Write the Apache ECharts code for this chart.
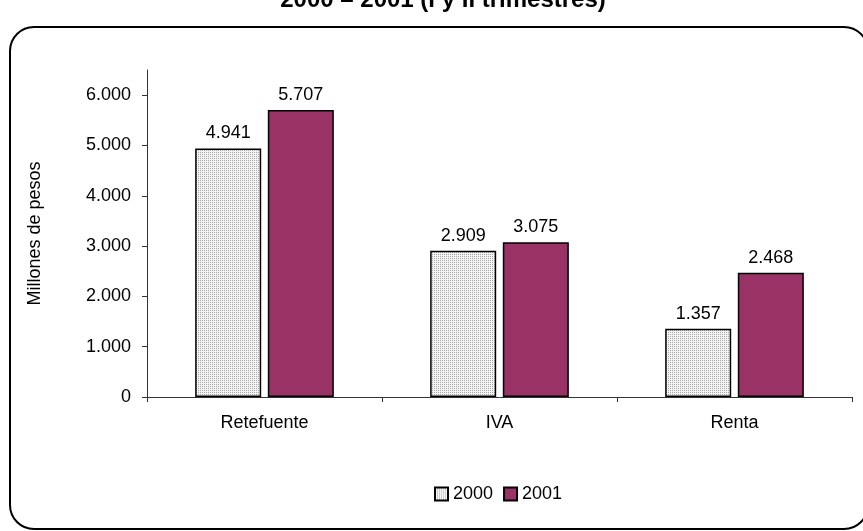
<!DOCTYPE html>
<html>
<head>
<meta charset="utf-8">
<script src="https://cdn.jsdelivr.net/npm/echarts@6/dist/echarts.min.js"></script>
<style>
html, body { margin: 0; padding: 0; background: #fff; }
#chart { width: 863px; height: 531px; }
</style>
</head>
<body>
<div id="chart"></div>
<script>
// datos
var categories = ['Retefuente', 'IVA', 'Renta'];
var years = ['2000', '2001'];
var values2000 = [4941, 2909, 1357];
var values2001 = [5707, 3075, 2468];
var yTicks = [0, 1000, 2000, 3000, 4000, 5000, 6000];
var titleText = '2000 – 2001 (I y II trimestres)';

// miles con punto
function fmt(v) {
    return String(v).replace(/\B(?=(\d{3})+(?!\d))/g, '.');
}

// trama punteada para 2000
var pat = document.createElement('canvas');
pat.width = 2;
pat.height = 2;
var pctx = pat.getContext('2d');
pctx.fillStyle = '#f4f4f4';
pctx.fillRect(0, 0, 2, 2);
pctx.fillStyle = '#a8a8a8';
pctx.fillRect(0, 0, 1, 1);

var font = 'Arial, "Liberation Sans", sans-serif';

var chart = echarts.init(document.getElementById('chart'));
var option = {
    animation: false,
    textStyle: { fontFamily: font, color: '#000' },
    graphic: [{
        type: 'rect',
        shape: { x: 10, y: 27, width: 858, height: 502, r: 24 },
        style: { fill: 'none', stroke: '#000', lineWidth: 2 },
        silent: true
    }, {
        type: 'text',
        x: 443,
        y: 0,
        style: {
            text: titleText,
            font: 'bold 24px ' + font,
            fill: '#000',
            align: 'center',
            verticalAlign: 'middle'
        }
    }],
    legend: {
        left: 429,
        top: 480,
        itemWidth: 13,
        itemHeight: 13,
        itemGap: 10,
        icon: 'rect',
        textStyle: { fontSize: 18, color: '#000', fontFamily: font },
        data: years
    },
    grid: {
        left: 147,
        right: 11,
        top: 70,
        bottom: 134
    },
    xAxis: {
        type: 'category',
        data: categories,
        axisLine: { lineStyle: { color: '#333', width: 1 } },
        axisTick: { show: true, length: 5, lineStyle: { color: '#333' } },
        axisLabel: { fontSize: 18, color: '#000', margin: 17, fontFamily: font }
    },
    yAxis: {
        type: 'value',
        min: 0,
        max: 6500,
        interval: 1000,
        name: 'Millones de pesos',
        nameLocation: 'middle',
        nameGap: 103,
        nameTextStyle: { fontSize: 18, color: '#000', fontFamily: font },
        axisLine: { show: true, lineStyle: { color: '#333', width: 1 } },
        axisTick: { show: true, length: 5, inside: false, lineStyle: { color: '#333' }, customValues: yTicks },
        axisLabel: { fontSize: 18, color: '#000', margin: 16, fontFamily: font, customValues: yTicks, formatter: fmt },
        splitLine: { show: false }
    },
    series: [{
        name: years[0],
        type: 'bar',
        data: values2000,
        barGap: '10%',
        barCategoryGap: '41%',
        itemStyle: {
            color: { image: pat, repeat: 'repeat' },
            borderColor: '#000',
            borderWidth: 1.5
        },
        label: {
            show: true,
            position: 'top',
            distance: 6,
            fontSize: 18,
            color: '#000',
            fontFamily: font,
            formatter: function (p) { return fmt(p.value); }
        }
    }, {
        name: years[1],
        type: 'bar',
        data: values2001,
        itemStyle: {
            color: '#993366',
            borderColor: '#000',
            borderWidth: 1.5
        },
        label: {
            show: true,
            position: 'top',
            distance: 6,
            fontSize: 18,
            color: '#000',
            fontFamily: font,
            formatter: function (p) { return fmt(p.value); }
        }
    }]
};
chart.setOption(option);
</script>
</body>
</html>
